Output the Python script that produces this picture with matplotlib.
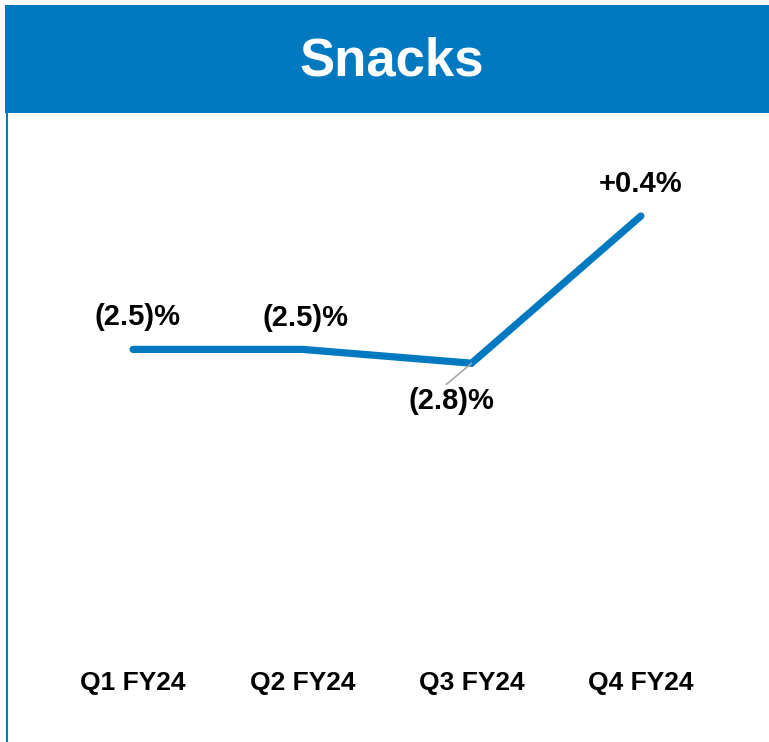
import matplotlib.pyplot as plt
from matplotlib.patches import Rectangle

plt.rcParams['font.family'] = ['Liberation Sans', 'DejaVu Sans']

# Snacks growth by quarter
quarters = ['Q1 FY24', 'Q2 FY24', 'Q3 FY24', 'Q4 FY24']
growth = [-2.5, -2.5, -2.8, 0.4]
labels = ['(2.5)%', '(2.5)%', '(2.8)%', '+0.4%']

blue = '#0079C1'

fig = plt.figure(figsize=(7.69, 7.42), dpi=100)
W, H = 769, 742

# header band and left border
fig.patches.append(Rectangle((5 / W, 1 - 113 / H), 1, 108 / H, transform=fig.transFigure,
                             facecolor=blue, edgecolor='none', zorder=0))
fig.patches.append(Rectangle((6 / W, 0), 2.2 / W, 1 - 113 / H, transform=fig.transFigure,
                             facecolor=blue, edgecolor='none', zorder=0))
fig.text(392 / W, 1 - 62 / H, 'Snacks', color='white', fontsize=38, fontweight='bold',
         ha='center', va='center')

ax = fig.add_axes([0, 0, 1, 1])
ax.patch.set_alpha(0)
ax.set_xlim(-0.786, 3.757)
ax.set_ylim(-11.035, 5.096)
ax.axis('off')

x = list(range(len(quarters)))
ax.plot(x, growth, color=blue, lw=5.2, solid_capstyle='round', solid_joinstyle='miter', zorder=3)

# value labels
offsets = [(4, 32), (3, 31), (-20, -38), (0, 32)]
for i, (v, t, off) in enumerate(zip(growth, labels, offsets)):
    if i == 2:
        ax.annotate(t, (i, v), xytext=off, textcoords='offset pixels', ha='center', va='center',
                    fontsize=21, fontweight='bold',
                    arrowprops=dict(arrowstyle='-', color='#A6A6A6', lw=1.2,
                                    shrinkA=0, shrinkB=0, relpos=(0.4, 1.0)))
    else:
        ax.annotate(t, (i, v), xytext=off, textcoords='offset pixels', ha='center', va='center',
                    fontsize=21, fontweight='bold')

# category labels along the bottom
for i, q in enumerate(quarters):
    ax.text(i, -9.75, q, ha='center', va='center', fontsize=19, fontweight='bold')

fig.savefig('out.png', dpi=100)
